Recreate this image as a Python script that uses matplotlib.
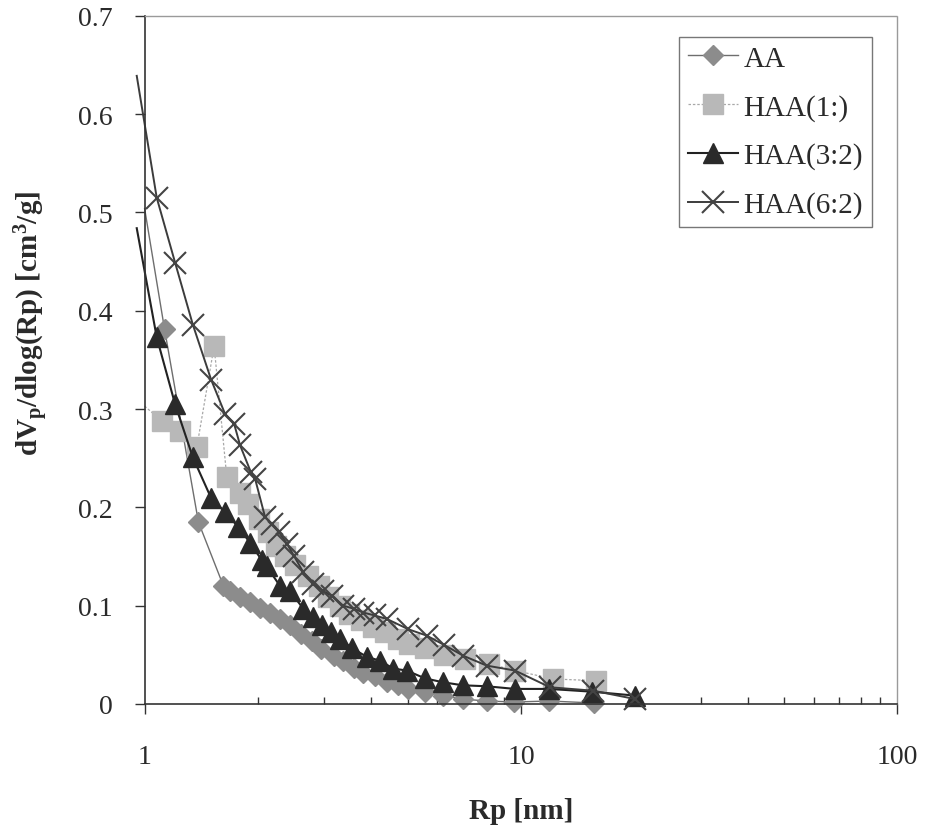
import numpy as np
import matplotlib
matplotlib.use("Agg")
import matplotlib.pyplot as plt

plt.rcParams['font.family'] = ['Liberation Serif', 'DejaVu Serif']
plt.rcParams['mathtext.fontset'] = 'custom'
plt.rcParams['mathtext.rm'] = 'Liberation Serif:bold'
plt.rcParams['mathtext.default'] = 'rm'

# data (first point of each series lies at the axis edge)
rp_aa = [1.0, 1.13, 1.39, 1.62, 1.687, 1.793, 1.906, 2.026, 2.153, 2.29, 2.43,
         2.61, 2.78, 2.95, 3.18, 3.37, 3.59, 3.81, 4.09, 4.4, 4.7, 5.02, 5.56,
         6.22, 7.0, 8.1, 9.6, 11.9, 15.6]
v_aa = [0.504, 0.381, 0.185, 0.120, 0.115, 0.1085, 0.1035, 0.098, 0.093, 0.0865,
        0.080, 0.071, 0.064, 0.056, 0.049, 0.044, 0.037, 0.032, 0.0288, 0.022,
        0.019, 0.0153, 0.012, 0.0085, 0.005, 0.003, 0.002, 0.003, 0.001]

rp_11 = [1.0, 1.11, 1.24, 1.376, 1.53, 1.653, 1.793, 1.887, 2.01, 2.13, 2.24,
         2.36, 2.51, 2.72, 2.90, 3.08, 3.3, 3.5, 3.75, 4.05, 4.35, 4.7, 5.05,
         5.55, 6.25, 7.1, 8.2, 9.64, 12.2, 15.8]
v_11 = [0.303, 0.288, 0.278, 0.261, 0.364, 0.231, 0.215, 0.2035, 0.188, 0.175,
        0.161, 0.151, 0.141, 0.130, 0.120, 0.109, 0.100, 0.092, 0.085, 0.078,
        0.073, 0.066, 0.061, 0.057, 0.050, 0.046, 0.041, 0.034, 0.0254, 0.0237]

rp_32 = [0.953, 1.077, 1.205, 1.343, 1.5, 1.636, 1.775, 1.906, 2.05, 2.11, 2.29,
         2.43, 2.64, 2.8, 2.96, 3.12, 3.31, 3.55, 3.89, 4.22, 4.58, 4.97, 5.56,
         6.22, 7.0, 8.1, 9.64, 11.9, 15.4, 20.1]
v_32 = [0.484, 0.373, 0.305, 0.251, 0.210, 0.195, 0.180, 0.164, 0.146, 0.140,
        0.120, 0.115, 0.097, 0.088, 0.080, 0.073, 0.066, 0.057, 0.048, 0.044,
        0.036, 0.034, 0.026, 0.022, 0.019, 0.018, 0.0153, 0.0153, 0.0125, 0.0085]

rp_62 = [0.953, 1.077, 1.205, 1.343, 1.502, 1.636, 1.729, 1.794, 1.915, 1.966,
         2.09, 2.18, 2.27, 2.39, 2.49, 2.64, 2.81, 2.98, 3.14, 3.37, 3.59, 3.81,
         4.09, 4.40, 5.02, 5.62, 6.25, 7.03, 8.11, 9.64, 11.94, 15.56, 20.1]
v_62 = [0.639, 0.515, 0.449, 0.386, 0.330, 0.295, 0.285, 0.263, 0.236, 0.229,
        0.190, 0.183, 0.175, 0.163, 0.151, 0.134, 0.122, 0.115, 0.110, 0.100,
        0.097, 0.093, 0.090, 0.0865, 0.076, 0.0695, 0.060, 0.049, 0.039, 0.034,
        0.017, 0.0135, 0.005]

labels = ['AA', 'HAA(1:)', 'HAA(3:2)', 'HAA(6:2)']
yticks = [0, 0.1, 0.2, 0.3, 0.4, 0.5, 0.6, 0.7]

fig = plt.figure(figsize=(9.27, 8.28), dpi=100)
ax = fig.add_axes([0.156, 0.1486, 0.812, 0.831])

skip = slice(1, None)
ax.plot(rp_aa, v_aa, color='#6e6e6e', lw=1.0, marker='D', ms=10,
        mfc='#8c8c8c', mec='#8c8c8c', markevery=skip, clip_on=False,
        label=labels[0])
ax.plot(rp_11, v_11, color='#a8a8a8', lw=0.9, ls=(0, (2, 1.5)), marker='s',
        ms=14, mfc='#b8b8b8', mec='#b8b8b8', markevery=skip, clip_on=False,
        label=labels[1])
ax.plot(rp_32, v_32, color='#222222', lw=1.5, marker='^', ms=15,
        mfc='#2a2a2a', mec='#2a2a2a', markevery=skip, clip_on=False,
        label=labels[2])
ax.plot(rp_62, v_62, color='#3c3c3c', lw=1.4, marker='x', ms=16, mew=1.5,
        mec='#444444', markevery=skip, clip_on=False, label=labels[3])

ax.set_xscale('log')
ax.set_xlim(1, 100)
ax.set_ylim(0, 0.7)
ax.set_yticks(yticks)
ax.set_yticklabels(['0'] + ['%.1f' % t for t in yticks[1:]])
ax.set_xticks([1, 10, 100])
ax.set_xticklabels(['1', '10', '100'])

for s in ['left', 'bottom']:
    ax.spines[s].set_color('#333333')
    ax.spines[s].set_linewidth(1.2)
for s in ['top', 'right']:
    ax.spines[s].set_color('#9a9a9a')
    ax.spines[s].set_linewidth(1.0)
    ax.spines[s].set_linestyle((0, (1, 1)))

ax.tick_params(axis='y', direction='out', length=7, width=1, color='#333333',
               labelsize=20, pad=16, labelcolor='#2a2a2a')
ax.tick_params(axis='x', which='major', direction='out', length=7, width=1,
               color='#333333', labelsize=20, pad=22, labelcolor='#2a2a2a')
ax.tick_params(axis='x', which='minor', direction='in', length=5, width=1,
               color='#333333')
ax.xaxis.set_minor_formatter(matplotlib.ticker.NullFormatter())

ax.set_xlabel('Rp [nm]', fontsize=21, fontweight='bold', color='#2a2a2a',
              labelpad=20)
ax.set_ylabel('dV$_p$/dlog(Rp) [cm$^3$/g]', fontsize=21, fontweight='bold',
              color='#2a2a2a')
ax.yaxis.set_label_coords(-0.125, 0.555)

leg = ax.legend(loc='upper right', bbox_to_anchor=(0.966, 0.97), fontsize=21,
                frameon=True, fancybox=False, edgecolor='#555555',
                handlelength=1.7, handletextpad=0.2, labelspacing=0.75,
                borderpad=0.3, borderaxespad=0)
leg.get_frame().set_linewidth(1.0)
for t in leg.get_texts():
    t.set_color('#2a2a2a')

fig.savefig('out.png', dpi=100)
